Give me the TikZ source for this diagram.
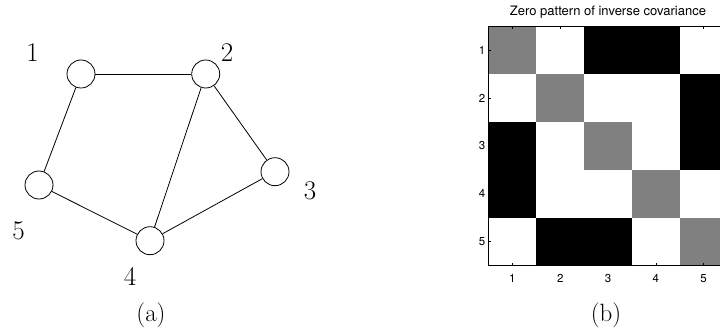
\documentclass[tikz,border=0pt]{standalone}
\usepackage{fontspec}
\newfontfamily\plotfont{TeX Gyre Heros}
\begin{document}
\begin{tikzpicture}[x=1pt,y=-1pt,
  vertex/.style={circle,draw,line width=0.8pt,minimum size=28pt,inner sep=0pt},
  edge/.style={line width=0.8pt},
  vlabel/.style={font=\fontsize{27}{32}\selectfont,inner sep=0pt,anchor=base},
  caption/.style={font=\fontsize{25}{30}\selectfont,inner sep=0pt,anchor=base},
  ticklabel/.style={font=\plotfont\fontsize{11.5}{13}\selectfont,inner sep=0pt},
  titlelabel/.style={font=\plotfont\fontsize{13}{15}\selectfont,inner sep=0pt,anchor=base},
  tick/.style={line width=0.5pt},
  zerocell/.style={fill=black},
  diagcell/.style={fill=black!50}]
\useasboundingbox (0,0) rectangle (720,331);
\clip (0,0) rectangle (720,331);

% ---- graph ----
\node[vertex] (n1) at (81,74) {};
\node[vertex] (n2) at (205.7,74) {};
\node[vertex] (n3) at (275,171.7) {};
\node[vertex] (n4) at (150,240.7) {};
\node[vertex] (n5) at (39,185) {};
\draw[edge] (n1) -- (n2);
\draw[edge] (n1) -- (n5);
\draw[edge] (n2) -- (n3);
\draw[edge] (n2) -- (n4);
\draw[edge] (n3) -- (n4);
\draw[edge] (n5) -- (n4);
\node[vlabel] (l1) at (32.5,61.7) {1};
\node[vlabel] (l2) at (227,61.7) {2};
\node[vlabel] (l3) at (310,200) {3};
\node[vlabel] (l4) at (130,285) {4};
\node[vlabel] (l5) at (18.5,240) {5};
\node[caption] (capa) at (151,321) {(a)};

% ---- precision matrix zero pattern ----
\def\cx{488.5}\def\cy{26.5}\def\cs{47.8}
% diagonal entries
\foreach \i in {1,...,5}
  \fill[diagcell] ({\cx+(\i-1)*\cs},{\cy+(\i-1)*\cs}) rectangle ++(\cs,\cs);
% zero entries (row,col)
\foreach \r/\c in {1/3,1/4,3/1,4/1,2/5,5/2,3/5,5/3}
  \fill[zerocell] ({\cx+(\c-1)*\cs},{\cy+(\r-1)*\cs}) rectangle ++(\cs,\cs);
% tick marks and labels
\foreach \i in {1,...,5}{
  \draw[tick] ({\cx},{\cy+(\i-0.5)*\cs}) -- ++(2.5,0);
  \draw[tick] ({\cx+(\i-0.5)*\cs},{\cy}) -- ++(0,2.5);
  \draw[tick] ({\cx+(\i-0.5)*\cs},{\cy+5*\cs}) -- ++(0,-2.5);
  \node[ticklabel,anchor=east] (yl\i) at ({\cx-3},{\cy+(\i-0.5)*\cs}) {\i};
  \node[ticklabel,anchor=base] (xl\i) at ({\cx+(\i-0.5)*\cs},282.7) {\i};
}
\draw[line width=1.2pt] (\cx,\cy) rectangle ({\cx+5*\cs},{\cy+5*\cs});
\node[titlelabel] (title) at ({\cx+2.5*\cs},15.5) {Zero pattern of inverse covariance};
\node[caption] (capb) at (606,321) {(b)};
\end{tikzpicture}
\end{document}
